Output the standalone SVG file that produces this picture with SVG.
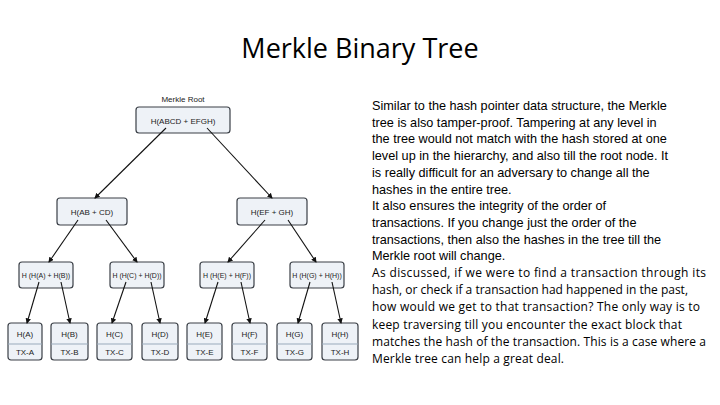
<svg xmlns="http://www.w3.org/2000/svg" width="720" height="405" viewBox="0 0 720 405">
<style>
.b{fill:#eef2f7;stroke:#3a3f46;stroke-width:1.2}
.t{font-family:"Liberation Sans Narrow","Liberation Sans",sans-serif;font-size:8px;fill:#222;text-anchor:middle}
.s{font-size:7px}
.p{font-family:"Liberation Sans",sans-serif;font-size:12.7px;fill:#000}
.q{font-family:"Open Sans",sans-serif;font-size:12px;fill:#000}
.c line{stroke:#111;stroke-width:1.1;marker-end:url(#a)}
</style>
<defs><marker id="a" viewBox="0 0 6 6" refX="5" refY="3" markerWidth="5" markerHeight="5" orient="auto"><path d="M0,0L6,3L0,6z" fill="#111"/></marker></defs>
<rect width="720" height="405" fill="#fff"/>
<text x="360" y="58" font-family="Open Sans,sans-serif" font-size="27" text-anchor="middle" fill="#000">Merkle Binary Tree</text>
<text class="t" x="183" y="102" font-size="9">Merkle Root</text>
<g id="root"><rect class="b" x="136" y="107" width="94" height="26" rx="3"/><text class="t" x="183" y="124" font-size="9.5">H(ABCD + EFGH)</text></g>
<g id="n1"><rect class="b" x="57" y="198" width="70" height="27" rx="3"/><text class="t" x="92" y="215">H(AB + CD)</text></g>
<g id="n2"><rect class="b" x="237" y="198" width="70" height="27" rx="3"/><text class="t" x="272" y="215">H(EF + GH)</text></g>
<g id="n3"><rect class="b" x="19" y="262" width="54" height="26" rx="3"/><text class="t s" x="46" y="278">H (H(A) + H(B))</text></g>
<g id="n4"><rect class="b" x="110" y="262" width="54" height="26" rx="3"/><text class="t s" x="137" y="278">H (H(C) + H(D))</text></g>
<g id="n5"><rect class="b" x="200" y="262" width="54" height="26" rx="3"/><text class="t s" x="227" y="278">H (H(E) + H(F))</text></g>
<g id="n6"><rect class="b" x="290" y="262" width="54" height="26" rx="3"/><text class="t s" x="317" y="278">H (H(G) + H(H))</text></g>
<g id="leaves">
<g id="la"><rect class="b" x="8" y="323" width="34" height="37" rx="3"/><line x1="8" y1="344" x2="42" y2="344" stroke="#9ab" /><text class="t" x="25" y="337">H(A)</text><text class="t" x="25" y="355">TX-A</text></g>
<g id="lb"><rect class="b" x="51" y="323" width="37" height="37" rx="3"/><line x1="51" y1="344" x2="88" y2="344" stroke="#9ab" /><text class="t" x="69.5" y="337">H(B)</text><text class="t" x="69.5" y="355">TX-B</text></g>
<g id="lc"><rect class="b" x="97" y="323" width="35" height="37" rx="3"/><line x1="97" y1="344" x2="132" y2="344" stroke="#9ab" /><text class="t" x="114.5" y="337">H(C)</text><text class="t" x="114.5" y="355">TX-C</text></g>
<g id="ld"><rect class="b" x="142" y="323" width="36" height="37" rx="3"/><line x1="142" y1="344" x2="178" y2="344" stroke="#9ab" /><text class="t" x="160" y="337">H(D)</text><text class="t" x="160" y="355">TX-D</text></g>
<g id="le"><rect class="b" x="187" y="323" width="35" height="37" rx="3"/><line x1="187" y1="344" x2="222" y2="344" stroke="#9ab" /><text class="t" x="204.5" y="337">H(E)</text><text class="t" x="204.5" y="355">TX-E</text></g>
<g id="lf"><rect class="b" x="232" y="323" width="35" height="37" rx="3"/><line x1="232" y1="344" x2="267" y2="344" stroke="#9ab" /><text class="t" x="249.5" y="337">H(F)</text><text class="t" x="249.5" y="355">TX-F</text></g>
<g id="lg"><rect class="b" x="277" y="323" width="35" height="37" rx="3"/><line x1="277" y1="344" x2="312" y2="344" stroke="#9ab" /><text class="t" x="294.5" y="337">H(G)</text><text class="t" x="294.5" y="355">TX-G</text></g>
<g id="lh"><rect class="b" x="322" y="323" width="36" height="37" rx="3"/><line x1="322" y1="344" x2="358" y2="344" stroke="#9ab" /><text class="t" x="340" y="337">H(H)</text><text class="t" x="340" y="355">TX-H</text></g>
</g>
<g class="c">
<line x1="166" y1="128" x2="95" y2="198"/>
<line x1="207" y1="128" x2="272" y2="198"/>
<line x1="78" y1="220" x2="49" y2="262"/>
<line x1="106" y1="220" x2="137" y2="262"/>
<line x1="265" y1="220" x2="228" y2="262"/>
<line x1="288" y1="220" x2="316" y2="262"/>
<line x1="39" y1="282" x2="27" y2="323"/>
<line x1="61" y1="282" x2="70" y2="323"/>
<line x1="126" y1="282" x2="112" y2="323"/>
<line x1="151" y1="282" x2="160" y2="323"/>
<line x1="218" y1="282" x2="205" y2="323"/>
<line x1="241" y1="282" x2="250" y2="323"/>
<line x1="310" y1="282" x2="298" y2="323"/>
<line x1="332" y1="282" x2="341" y2="323"/>
</g>
<g id="text">
<text class="p" x="372" y="110">Similar to the hash pointer data structure, the Merkle</text>
<text class="p" x="372" y="126.7">tree is also tamper-proof. Tampering at any level in</text>
<text class="p" x="372" y="143.4">the tree would not match with the hash stored at one</text>
<text class="p" x="372" y="160.1">level up in the hierarchy, and also till the root node. It</text>
<text class="p" x="372" y="176.8">is really difficult for an adversary to change all the</text>
<text class="p" x="372" y="193.5">hashes in the entire tree.</text>
<text class="p" x="372" y="210.2">It also ensures the integrity of the order of</text>
<text class="p" x="372" y="226.9">transactions. If you change just the order of the</text>
<text class="p" x="372" y="243.6">transactions, then also the hashes in the tree till the</text>
<text class="p" x="372" y="260.3">Merkle root will change.</text>
<text class="q" x="372" y="277" textLength="334">As discussed, if we were to find a transaction through its</text>
<text class="q" x="372" y="294.2" textLength="316">hash, or check if a transaction had happened in the past,</text>
<text class="q" x="372" y="311.4" textLength="328">how would we get to that transaction? The only way is to</text>
<text class="q" x="372" y="328.6" textLength="310">keep traversing till you encounter the exact block that</text>
<text class="q" x="372" y="345.8" textLength="334">matches the hash of the transaction. This is a case where a</text>
<text class="q" x="372" y="363" textLength="192">Merkle tree can help a great deal.</text>
</g>
</svg>
